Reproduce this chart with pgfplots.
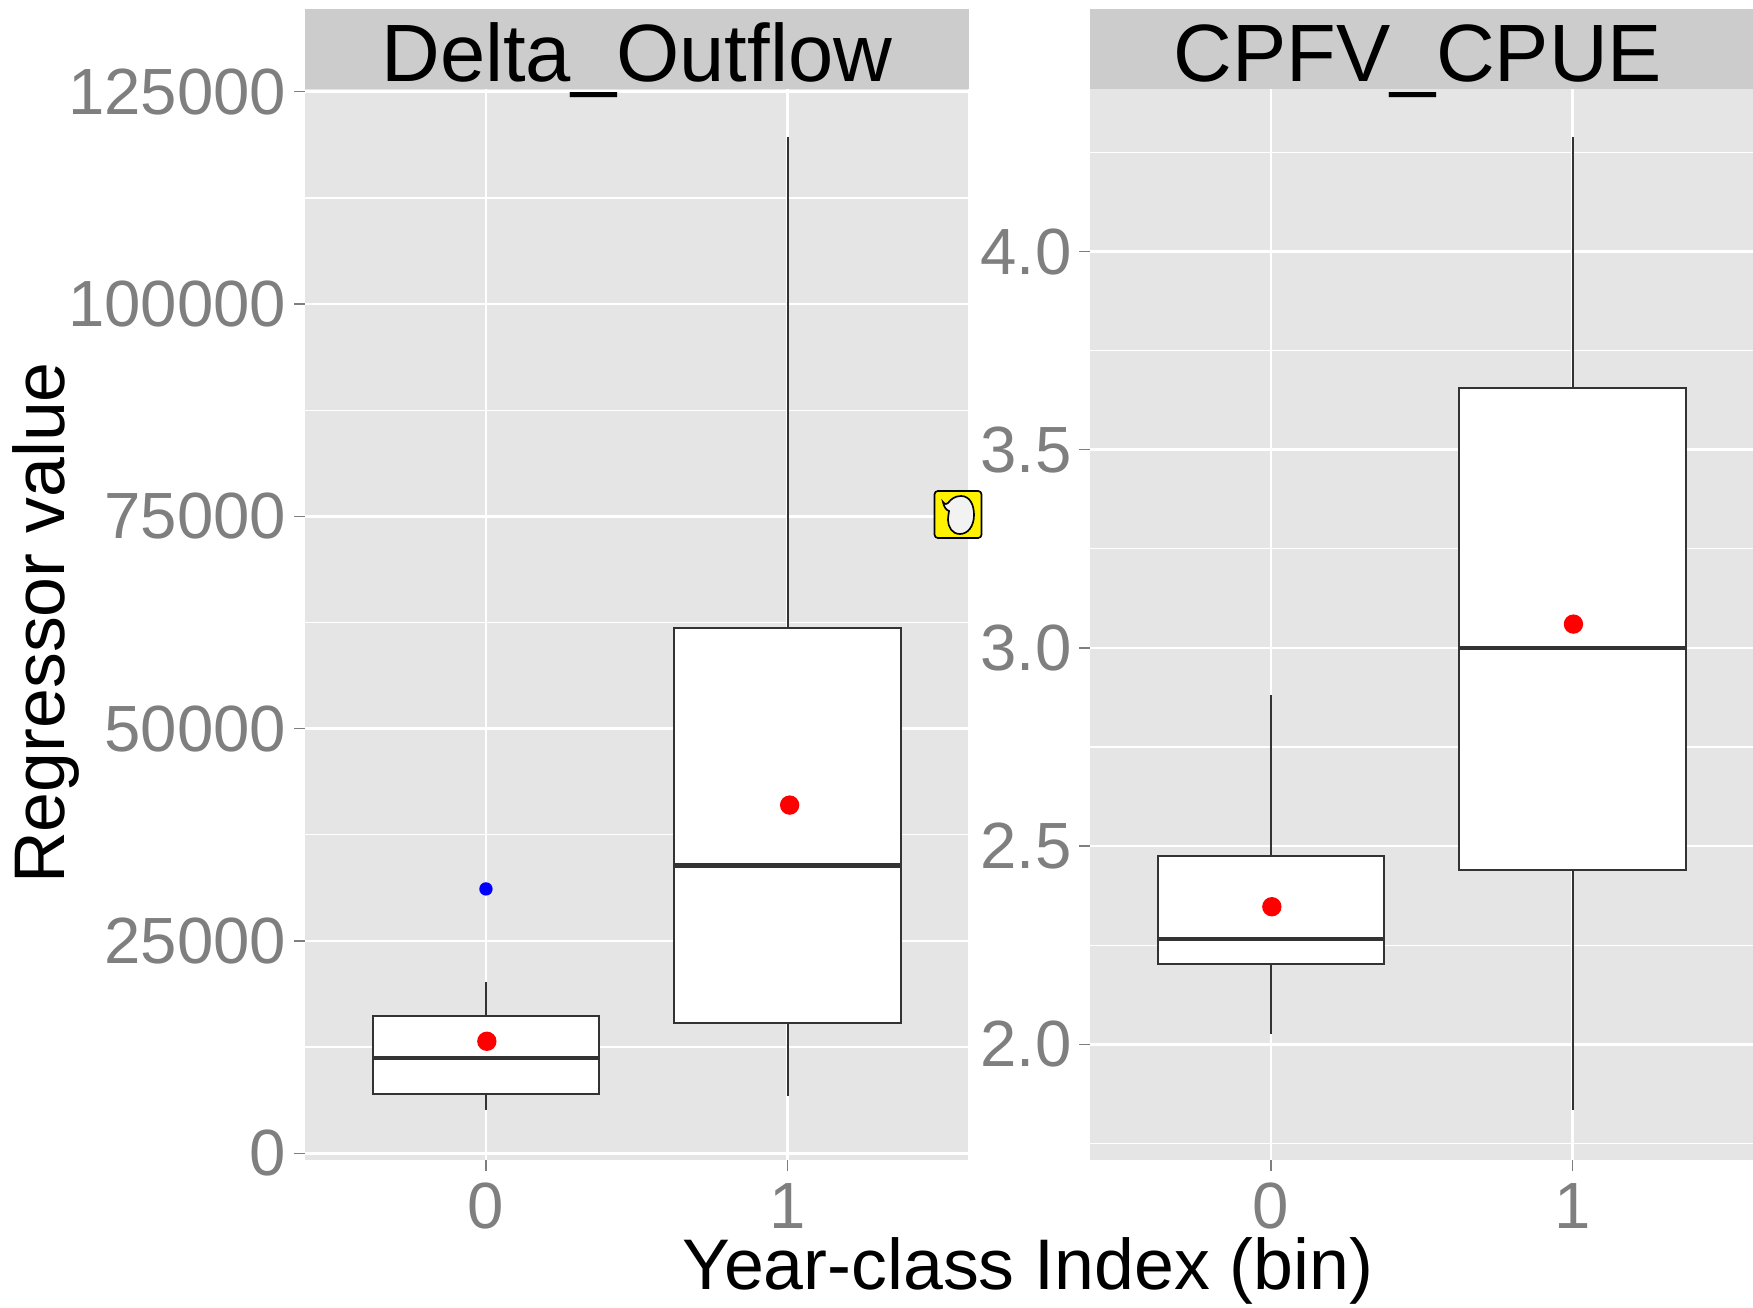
\documentclass[border=0pt]{standalone}
\usepackage{fontspec}
\setmainfont{Liberation Sans}
\usepackage{pgfplots}
\pgfplotsset{compat=1.18}
\definecolor{panel}{RGB}{229,229,229}
\definecolor{strip}{RGB}{204,204,204}
\definecolor{boxc}{RGB}{51,51,51}
\definecolor{tickc}{RGB}{127,127,127}
\pgfplotsset{
  facet/.style={
    scale only axis, width=199.05pt, height=321.3pt,
    anchor=south west,
    axis background/.style={fill=panel},
    axis line style={draw=none},
    xmin=-0.6, xmax=1.6,
    xtick={0,1}, xticklabels={0,1},
    xtick pos=bottom, ytick pos=left,
    tick align=outside, major tick length=3.2pt, minor tick length=0pt,
    tick style={color=tickc, line width=0.45pt},
    xmajorgrids, ymajorgrids, yminorgrids,
    major grid style={white, line width=0.8pt},
    minor grid style={white, line width=0.4pt},
    tick label style={font=\fontsize{19.6}{20}\selectfont, text=tickc, inner sep=0pt},
    yticklabel style={xshift=-2.2pt},
    xticklabel style={yshift=-3.6pt},
    scaled y ticks=false,
    /pgf/number format/assume math mode=true,
  },
  whisk/.style={boxc, line width=0.6pt, no marks},
  bx/.style={solid, draw=boxc, fill=white, line width=0.6pt, no marks},
  med/.style={boxc, line width=1.35pt, no marks},
  mean/.style={only marks, mark=*, mark size=2.7pt, color=red, mark options={draw=red, fill=red}},
  out/.style={only marks, mark=*, mark size=1.8pt, color=blue, mark options={draw=blue, fill=blue}},
}
\begin{document}
\begin{tikzpicture}
\useasboundingbox (0,0) rectangle (525.9pt,392.1pt);
% ---------- left facet
\begin{axis}[facet, at={(91.5pt,44.1pt)},
  ymin=-790, ymax=125320,
  ytick={0,25000,50000,75000,100000,125000},
  minor ytick={12500,37500,62500,87500,112500},
  yticklabel style={/pgf/number format/.cd, fixed, 1000 sep={}},
]
% whiskers
\addplot[whisk] coordinates {(0,5100) (0,20200)};
\addplot[whisk] coordinates {(1,6800) (1,119700)};
% boxes
\addplot[bx] coordinates {(-0.375,6980) (0.375,6980) (0.375,16200) (-0.375,16200)} -- cycle;
\addplot[bx] coordinates {(0.625,15340) (1.375,15340) (1.375,61800) (0.625,61800)} -- cycle;
% medians
\addplot[med] coordinates {(-0.375,11220) (0.375,11220)};
\addplot[med] coordinates {(0.625,33900) (1.375,33900)};
\addplot[out] coordinates {(0,31130)};
\addplot[mean] coordinates {(0.003,13190) (1.007,41000)};
\end{axis}
% ---------- right facet
\begin{axis}[facet, at={(327pt,44.1pt)},
  ymin=1.708, ymax=4.41,
  ytick={2,2.5,3,3.5,4},
  minor ytick={1.75,2.25,2.75,3.25,3.75,4.25},
  yticklabel style={/pgf/number format/.cd, fixed, fixed zerofill, precision=1},
]
\addplot[whisk] coordinates {(0,2.026) (0,2.88)};
\addplot[whisk] coordinates {(1,1.834) (1,4.29)};
\addplot[bx] coordinates {(-0.375,2.203) (0.375,2.203) (0.375,2.474) (-0.375,2.474)} -- cycle;
\addplot[bx] coordinates {(0.625,2.44) (1.375,2.44) (1.375,3.656) (0.625,3.656)} -- cycle;
\addplot[med] coordinates {(-0.375,2.265) (0.375,2.265)};
\addplot[med] coordinates {(0.625,3.0) (1.375,3.0)};
\addplot[mean] coordinates {(0.003,2.347) (1.003,3.06)};
\end{axis}
\begin{scope}[x=0.3pt,y=0.3pt]
% ---------- strips
\fill[strip] (305,1218) rectangle (968.5,1298);
\fill[strip] (1090,1218) rectangle (1753,1298);
\node[font=\fontsize{24.4}{26}\selectfont, text=black, inner sep=0pt, anchor=base] at (636.75,1225) {Delta\_Outflow};
\node[font=\fontsize{24.4}{26}\selectfont, text=black, inner sep=0pt, anchor=base] at (1418,1225) {CPFV\_CPUE};
% ---------- shared labels
\node[font=\fontsize{21.5}{23}\selectfont, text=black, inner sep=0pt, anchor=base] at (1028,18) {Year-class Index (bin)};
\node[font=\fontsize{21.5}{23}\selectfont, text=black, inner sep=0pt, anchor=base, rotate=90] at (64,684) {Regressor value};
% ---------- note icon
\filldraw[fill=yellow, draw=black, line width=0.5pt, rounded corners=1pt] (934.5,769) rectangle (981.5,816);
\filldraw[fill=white!95!black, draw=black, line width=0.5pt]
  (961,811) .. controls (970,811) and (974,802) .. (974,792)
  .. controls (974,781) and (968,773) .. (960,773)
  .. controls (952,773) and (948,780) .. (948,787)
  .. controls (948,791) and (949,794) .. (949,796)
  .. controls (946,797) and (944,800) .. (943,805)
  .. controls (945,802) and (947,803) .. (948,804)
  .. controls (951,808) and (955,811) .. (961,811) -- cycle;
\end{scope}
\end{tikzpicture}
\end{document}
